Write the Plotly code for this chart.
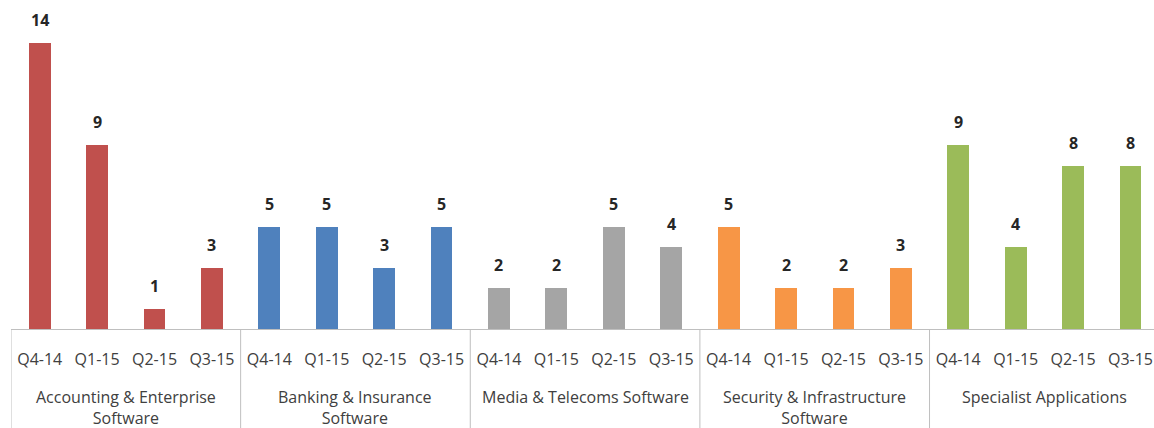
import plotly.graph_objects as go

# Deal counts per software sector and quarter
quarters = ["Q4-14", "Q1-15", "Q2-15", "Q3-15"]
sectors = [
    "Accounting & Enterprise<br>Software",
    "Banking & Insurance<br>Software",
    "Media & Telecoms Software",
    "Security & Infrastructure<br>Software",
    "Specialist Applications",
]
accounting = [14, 9, 1, 3]
banking = [5, 5, 3, 5]
media = [2, 2, 5, 4]
security = [5, 2, 2, 3]
specialist = [9, 4, 8, 8]
series = [accounting, banking, media, security, specialist]
colors = ["#C0504D", "#4F81BD", "#A5A5A5", "#F79646", "#9BBB59"]

n_q = len(quarters)
label_font = dict(family="Open Sans", size=16, color="#404040")
line_color = "#BFBFBF"

fig = go.Figure()
annotations = []
shapes = []
tickvals, ticktext = [], []

for g, (vals, col) in enumerate(zip(series, colors)):
    xs = [g * n_q + i for i in range(n_q)]
    fig.add_trace(go.Bar(x=xs, y=vals, marker=dict(color=col, line=dict(width=0)),
                         width=0.38, showlegend=False, hoverinfo="y"))
    for x, v in zip(xs, vals):
        annotations.append(dict(x=x, y=v, xref="x", yref="y", text=f"<b>{v}</b>",
                                showarrow=False, yanchor="bottom", yshift=10,
                                font=dict(family="Open Sans", size=16, color="#262626")))
    tickvals += xs
    ticktext += quarters
    # sector label below the quarter labels
    annotations.append(dict(x=g * n_q + (n_q - 1) / 2, y=0, xref="x", yref="paper",
                            text=sectors[g], showarrow=False, yanchor="top",
                            yshift=-55, font=label_font, align="center"))
    # divider on the left edge of each sector
    shapes.append(dict(type="line", xref="x", yref="paper", x0=g * n_q - 0.5,
                       x1=g * n_q - 0.5, y0=0, y1=-0.31,
                       line=dict(color=line_color, width=1)))

fig.update_layout(
    width=1154, height=428,
    margin=dict(l=11, r=0, t=0, b=99),
    paper_bgcolor="white", plot_bgcolor="white",
    bargap=0,
    annotations=annotations,
    shapes=shapes,
    xaxis=dict(range=[-0.5, 19.41], tickvals=tickvals, ticktext=ticktext,
               tickfont=label_font, showgrid=False, zeroline=False,
               showline=True, linecolor=line_color, linewidth=1,
               ticks="", ticklen=0, ticklabelstandoff=16),
    yaxis=dict(range=[0, 16.1], visible=False, showgrid=False, zeroline=False),
)

fig.write_html("out.html")
